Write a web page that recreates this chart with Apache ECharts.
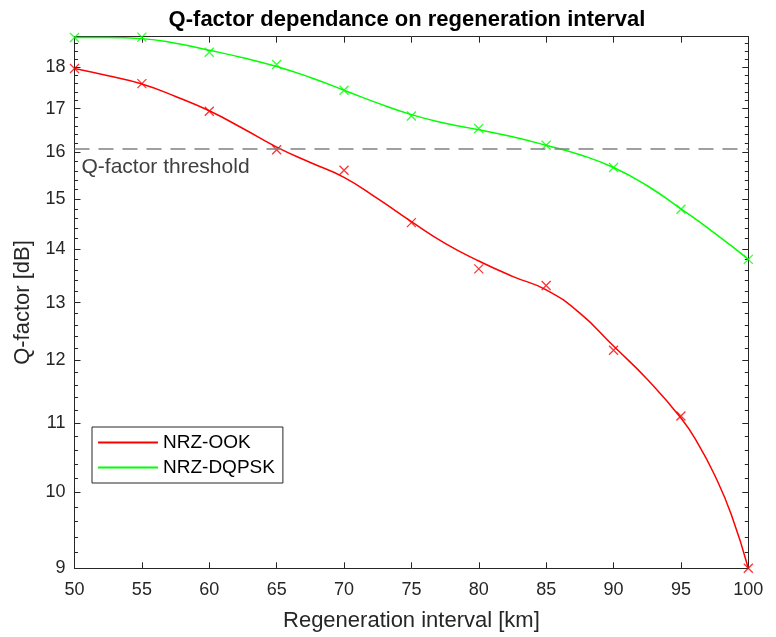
<!DOCTYPE html>
<html>
<head>
<meta charset="utf-8">
<script src="https://cdn.jsdelivr.net/npm/echarts@6/dist/echarts.min.js"></script>
<style>
  html, body { margin: 0; padding: 0; background: #fff; }
  #main { width: 776px; height: 637px; }
</style>
</head>
<body>
<div id="main"></div>
<script>
// regeneration interval, km (measured points)
var xKm = [50, 55, 60, 65, 70, 75, 80, 85, 90, 95, 100];
var ookPoints = [17.97, 17.60, 16.94, 16.06, 15.61, 14.52, 13.62, 13.31, 12.17, 11.11, 9.0];
var dqpskPoints = [18.76, 18.77, 18.38, 18.07, 17.44, 16.83, 16.54, 16.16, 15.67, 14.79, 13.80];

// fitted curves (every 2.5 km, denser near the steep end)
var xFit = [50, 52.5, 55, 57.5, 60, 62.5, 65, 67.5, 70, 72.5, 75,
            77.5, 80, 82.5, 85, 87.5, 90, 92.5, 95, 96.25, 97.5, 98.75, 100];
var ookFit = [17.97, 17.79, 17.59, 17.29, 16.95, 16.54, 16.12, 15.78, 15.46, 15.01, 14.54,
              14.11, 13.77, 13.48, 13.23, 12.81, 12.24, 11.69, 11.08, 10.70, 10.24, 9.69, 9.0];
var dqpskFit = [18.76, 18.76, 18.73, 18.61, 18.43, 18.24, 18.02, 17.75, 17.44, 17.13, 16.86,
                16.66, 16.51, 16.35, 16.16, 15.95, 15.67, 15.28, 14.80, 14.56, 14.31, 14.06, 13.80];

var qThreshold = 16.08;
var yTicks = [9, 10, 11, 12, 13, 14, 15, 16, 17, 18];
var yMin = 9, yMax = 18.78;

// log-scale minor ticks every 0.2 dB
var yMinorTicks = [];
for (var k = 46; k <= 93; k++) {
    if (k % 5 !== 0) yMinorTicks.push(k / 5);
}

function pairs(xs, ys) {
    return xs.map(function (x, i) { return [x, ys[i]]; });
}

var FONT = '"Liberation Sans", Arial, sans-serif';
var AX = '#262626';
var crossMark = 'path://M0,0L10,10M10,0L0,10';

var myChart = echarts.init(document.getElementById('main'));

function yAxisPart(pos, ticks, len, showLabel) {
    return {
        type: 'log',
        logBase: 10,
        position: pos,
        min: yMin,
        max: yMax,
        splitLine: { show: false },
        minorTick: { show: false },
        axisLine: { show: showLabel, lineStyle: { color: AX, width: 1 } },
        axisTick: { show: true, inside: true, length: len, customValues: ticks, lineStyle: { color: AX } },
        axisLabel: showLabel ? {
            show: true,
            customValues: yTicks,
            margin: 9,
            color: AX,
            fontSize: 18,
            fontFamily: FONT,
            formatter: function (v) { return String(Math.round(v)); }
        } : { show: false }
    };
}

var leftMain = yAxisPart('left', yTicks, 6, true);
leftMain.name = 'Q-factor [dB]';
leftMain.nameLocation = 'middle';
leftMain.nameGap = 41;
leftMain.nameTextStyle = { color: AX, fontSize: 22, fontFamily: FONT };

var rightMain = yAxisPart('right', yTicks, 6, false);
rightMain.axisLine = { show: true, lineStyle: { color: AX, width: 1 } };

var option = {
    backgroundColor: '#fff',
    animation: false,
    title: {
        text: 'Q-factor dependance on regeneration interval',
        left: 402,
        textAlign: 'center',
        top: 4,
        textStyle: { color: '#000', fontSize: 22, fontWeight: 'bold', fontFamily: FONT }
    },
    grid: {
        left: 74.5,
        right: 27.7,
        top: 36.7,
        bottom: 68.7,
        outerBoundsMode: 'none'
    },
    legend: {
        data: ['NRZ-OOK', 'NRZ-DQPSK'],
        orient: 'vertical',
        left: 92,
        top: 427,
        icon: 'rect',
        itemWidth: 60,
        itemHeight: 2,
        itemGap: 6,
        padding: [6, 8, 6, 6],
        borderColor: AX,
        borderWidth: 1,
        backgroundColor: '#fff',
        textStyle: { color: '#000', fontSize: 19, fontFamily: FONT }
    },
    xAxis: [{
        type: 'value',
        position: 'bottom',
        min: 50,
        max: 100,
        interval: 5,
        name: 'Regeneration interval [km]',
        nameLocation: 'middle',
        nameGap: 42,
        nameTextStyle: { color: AX, fontSize: 22, fontFamily: FONT },
        splitLine: { show: false },
        axisLine: { lineStyle: { color: AX, width: 1 } },
        axisTick: { inside: true, length: 6, lineStyle: { color: AX } },
        axisLabel: { margin: 13, color: AX, fontSize: 18, fontFamily: FONT }
    }, {
        type: 'value',
        position: 'top',
        min: 50,
        max: 100,
        interval: 5,
        splitLine: { show: false },
        axisLine: { lineStyle: { color: AX, width: 1 } },
        axisTick: { inside: true, length: 6, lineStyle: { color: AX } },
        axisLabel: { show: false }
    }],
    yAxis: [
        leftMain,
        yAxisPart('left', yMinorTicks, 3.5, false),
        rightMain,
        yAxisPart('right', yMinorTicks, 3.5, false)
    ],
    series: [{
        name: 'NRZ-OOK',
        type: 'line',
        data: pairs(xFit, ookFit),
        smooth: 0.5,
        showSymbol: false,
        color: '#ff0000',
        lineStyle: { width: 1.5 },
        markLine: {
            silent: true,
            symbol: 'none',
            lineStyle: { color: '#808080', type: [15, 9], width: 1.5 },
            label: {
                show: true,
                position: 'insideStartBottom',
                distance: [7, 8],
                formatter: 'Q-factor threshold',
                color: '#404040',
                fontSize: 21,
                fontFamily: FONT
            },
            data: [{ yAxis: qThreshold }]
        }
    }, {
        name: 'NRZ-DQPSK',
        type: 'line',
        data: pairs(xFit, dqpskFit),
        smooth: 0.5,
        showSymbol: false,
        color: '#00ff00',
        lineStyle: { width: 1.5 }
    }, {
        name: 'NRZ-OOK data',
        type: 'scatter',
        data: pairs(xKm, ookPoints),
        symbol: crossMark,
        symbolSize: 9,
        clip: false,
        itemStyle: { color: '#ff0000', borderColor: '#ff0000', borderWidth: 1.3 }
    }, {
        name: 'NRZ-DQPSK data',
        type: 'scatter',
        data: pairs(xKm, dqpskPoints),
        symbol: crossMark,
        symbolSize: 9,
        clip: false,
        itemStyle: { color: '#00ff00', borderColor: '#00ff00', borderWidth: 1.3 }
    }]
};

myChart.setOption(option);
</script>
</body>
</html>
